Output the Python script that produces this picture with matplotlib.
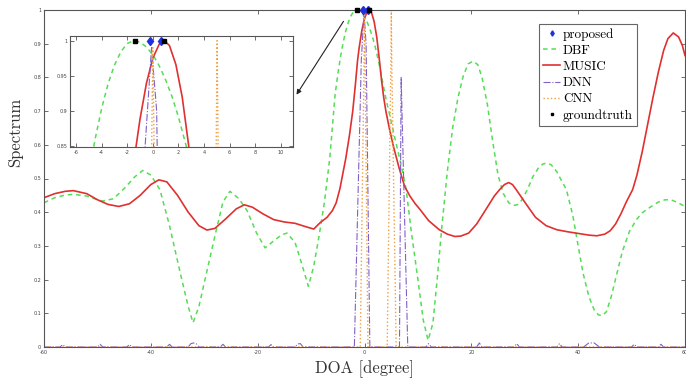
import matplotlib
matplotlib.use('Agg')
import matplotlib.pyplot as plt

# MUSIC spectrum (red solid)
music_x = [-60, -58, -56, -54.5, -52, -50, -48, -46, -44, -42, -40, -38.5, -37, -35, -33, -31,
           -29.5, -28, -26, -24, -22.5, -21, -19, -17, -15, -13, -11, -9.5, -8.3, -7, -6, -5.3,
           -4.6, -3.5, -2.8, -2.2, -1.7, -1.3, -1.0, -0.5, 0, 0.5, 0.9, 1.3, 1.8, 2.3, 2.8,
           3.2, 3.6, 4.0, 4.7, 5.5, 6.5, 7.5, 8.5, 9.5, 10.3, 12, 14, 15.5, 16.9, 18, 19.5,
           21, 23, 24.3, 25.3, 26.2, 27, 27.7, 28.4, 30, 32, 34, 36, 38, 40, 42, 43.5, 45, 46,
           47, 48, 49, 50.2, 51, 52, 53, 54, 55, 56, 56.8, 57.8, 58.8, 59.5, 60]
music_y = [0.443, 0.455, 0.462, 0.464, 0.455, 0.437, 0.423, 0.417, 0.425, 0.450, 0.482, 0.496,
           0.490, 0.450, 0.400, 0.360, 0.347, 0.352, 0.380, 0.410, 0.422, 0.415, 0.395, 0.378,
           0.371, 0.367, 0.357, 0.350, 0.369, 0.385, 0.405, 0.428, 0.470, 0.560, 0.630, 0.700,
           0.780, 0.850, 0.888, 0.939, 0.975, 0.995, 1.0, 0.993, 0.966, 0.919, 0.850, 0.790,
           0.740, 0.700, 0.645, 0.590, 0.530, 0.477, 0.448, 0.425, 0.410, 0.375, 0.348, 0.335,
           0.328, 0.329, 0.338, 0.365, 0.415, 0.448, 0.467, 0.482, 0.488, 0.482, 0.467, 0.430,
           0.385, 0.360, 0.348, 0.342, 0.337, 0.332, 0.330, 0.335, 0.345, 0.365, 0.395, 0.430,
           0.467, 0.510, 0.580, 0.660, 0.740, 0.815, 0.880, 0.915, 0.932, 0.920, 0.895, 0.865]

# DBF spectrum (green dashed)
dbf_x = [-60, -58, -56, -54.5, -52, -50, -49, -47, -45, -43, -41.5, -40, -38.3, -36.5, -34.5,
         -33, -32.1, -31, -30, -29, -28, -26.5, -25.2, -23.5, -22, -20.2, -18.6, -17, -15.5,
         -14.5, -13, -12, -10.5, -9.5, -8.5, -7.5, -6.5, -5.5, -5.0, -4.5, -4.0, -3.5, -3.0,
         -2.5, -2.0, -1.5, -1.0, -0.5, 0, 0.5, 1.0, 1.5, 2.0, 2.6, 3.0, 3.5, 4.1, 4.7, 5.4,
         6.2, 7, 7.8, 8.7, 10, 11, 11.9, 12.8, 13.6, 14.5, 15.5, 16.5, 17.5, 18.5, 19.4, 20.3,
         21.2, 22, 23, 24, 25, 26, 27, 27.8, 28.6, 29.4, 30.5, 31.5, 32.5, 33.4, 34.2, 35,
         36, 37, 37.8, 39, 40, 40.9, 42, 43, 43.8, 44.5, 45.3, 46.2, 47.2, 48.3, 49.6, 51,
         52, 53, 54, 55, 56.3, 57.5, 58.7, 60]
dbf_y = [0.428, 0.443, 0.451, 0.453, 0.448, 0.437, 0.433, 0.440, 0.470, 0.505, 0.524, 0.510,
         0.467, 0.360, 0.220, 0.120, 0.072, 0.120, 0.190, 0.260, 0.330, 0.430, 0.462, 0.440,
         0.405, 0.338, 0.294, 0.315, 0.333, 0.338, 0.310, 0.260, 0.180, 0.240, 0.330, 0.430,
         0.560, 0.750, 0.809, 0.860, 0.903, 0.938, 0.965, 0.984, 0.996, 1.0, 0.998, 0.991,
         0.980, 0.964, 0.944, 0.920, 0.891, 0.850, 0.819, 0.777, 0.730, 0.690, 0.640, 0.585,
         0.530, 0.467, 0.350, 0.200, 0.080, 0.020, 0.070, 0.200, 0.360, 0.520, 0.650, 0.740,
         0.805, 0.840, 0.848, 0.838, 0.800, 0.720, 0.610, 0.510, 0.455, 0.428, 0.420, 0.422,
         0.435, 0.467, 0.505, 0.530, 0.543, 0.546, 0.540, 0.520, 0.490, 0.467, 0.390, 0.300,
         0.220, 0.150, 0.110, 0.095, 0.093, 0.105, 0.150, 0.215, 0.285, 0.343, 0.380, 0.398,
         0.410, 0.420, 0.430, 0.437, 0.436, 0.428, 0.417]

# DNN output (purple dash-dot): small noise plus spikes
dnn_x = [-60, -57, -56.5, -56, -50, -49.5, -49, -44.5, -44, -43.5, -37, -36.5, -36, -33, -32.5,
         -32, -31.5, -31, -27, -26.5, -26, -18, -17.5, -17, -13, -12.5, -12, -11.5, -2.0, -1.9,
         -0.6, -0.1, 0.3, 1.0, 6.55, 6.86, 8.1, 11.5, 12, 12.5, 21, 21.5, 22, 28, 28.5, 29, 36,
         36.5, 37, 41, 42, 43, 44, 50, 50.5, 51, 55, 55.5, 56, 60]
dnn_y = [0, 0, 0.007, 0, 0, 0.008, 0, 0, 0.007, 0, 0, 0.008, 0, 0, 0.010, 0.012, 0.010, 0, 0,
         0.008, 0, 0, 0.007, 0, 0, 0.009, 0.010, 0, 0, 0, 0.85, 0.99, 0.90, 0, 0, 0.80, 0, 0,
         0.010, 0, 0, 0.012, 0, 0, 0.010, 0, 0, 0.010, 0, 0, 0.012, 0.012, 0, 0, 0.008, 0, 0,
         0.008, 0, 0]

# CNN output (orange dotted)
cnn_x = [-60, -0.8, -0.12, -0.09, 0.0, 0.1, 0.14, 0.65, 4.25, 4.9, 4.95, 5.02, 5.1, 5.15,
         5.93, 60]
cnn_y = [0, 0, 0.80, 0.85, 0.99, 0.85, 0.80, 0, 0, 0.80, 0.85, 1.0, 0.85, 0.80, 0, 0]

# estimated and true directions
proposed_x = [-0.2, 0.6]
proposed_y = [1.0, 1.0]
truth_x = [-1.4, 0.9]
truth_y = [1.0, 1.0]

labels = ['proposed', 'DBF', 'MUSIC', 'DNN', 'CNN', 'groundtruth']

C_MUSIC = '#e03030'
C_DBF = '#55dd55'
C_DNN = '#8060c8'
C_CNN = '#f0a040'
C_PROP = '#2030e0'
SPINE = '#555555'

W, H = 686, 379
fig = plt.figure(figsize=(W / 100, H / 100), dpi=100)
fig.patch.set_facecolor('white')


def draw_all(ax):
    h = []
    h.append(ax.plot(proposed_x, proposed_y, 'd', color=C_PROP, ms=4.5, clip_on=False, zorder=6)[0])
    h.append(ax.plot(dbf_x, dbf_y, '--', color=C_DBF, lw=1.1, dashes=(3, 2.5))[0])
    h.append(ax.plot(music_x, music_y, '-', color=C_MUSIC, lw=1.2)[0])
    h.append(ax.plot(dnn_x, dnn_y, '-.', color=C_DNN, lw=0.8)[0])
    h.append(ax.plot(cnn_x, cnn_y, ':', color=C_CNN, lw=1.0)[0])
    h.append(ax.plot(truth_x, truth_y, 's', color='black', ms=3.5, clip_on=False, zorder=6)[0])
    return h


def style_axes(ax):
    for s in ax.spines.values():
        s.set_color(SPINE)
        s.set_linewidth(0.8)
    ax.tick_params(direction='in', length=3, width=0.6, color=SPINE, labelsize=3.5,
                   labelcolor='#444444', top=True, right=True, pad=2)


# main axes
ax = fig.add_axes([44 / W, 32 / H, 641 / W, 337 / H])
handles = draw_all(ax)
ax.set_xlim(-60, 60)
ax.set_ylim(0, 1)
ax.set_xticks([-60, -40, -20, 0, 20, 40, 60])
ax.set_xticklabels(['-60', '-40', '-20', '0', '20', '40', '60'])
ax.set_yticks([0, 0.1, 0.2, 0.3, 0.4, 0.5, 0.6, 0.7, 0.8, 0.9, 1])
ax.set_yticklabels(['0', '0.1', '0.2', '0.3', '0.4', '0.5', '0.6', '0.7', '0.8', '0.9', '1'])
style_axes(ax)
ax.set_xlabel('DOA [degree]', fontfamily='cmr10', fontsize=12, color='#333333')
ax.set_ylabel('Spectrum', fontfamily='cmr10', fontsize=12, color='#333333')
ax.xaxis.set_label_coords(0.5, -0.04)
ax.yaxis.set_label_coords(-0.033, 0.638)

leg = ax.legend(handles, labels, loc='upper right', bbox_to_anchor=(0.925, 0.958),
                prop={'family': 'cmr10', 'size': 9.5}, fancybox=False, edgecolor='#666666',
                framealpha=1, handlelength=1.3, handletextpad=0.2, labelspacing=0.3,
                borderpad=0.3, borderaxespad=0, markerscale=0.6)
leg.get_frame().set_linewidth(0.8)

# zoomed inset
ins = fig.add_axes([70 / W, (H - 147) / H, 223 / W, 111 / H])
draw_all(ins)
ins.set_xlim(-6.47, 10.95)
ins.set_ylim(0.848, 1.0067)
ins.set_xticks([-6, -4, -2, 0, 2, 4, 6, 8, 10])
ins.set_xticklabels(['-6', '-4', '-2', '0', '2', '4', '6', '8', '10'])
ins.set_yticks([0.85, 0.9, 0.95, 1])
ins.set_yticklabels(['0.85', '0.9', '0.95', '1'])
style_axes(ins)

# arrow pointing from the peak to the inset
ax.annotate('', xy=(295 / W, 1 - 97 / H), xytext=(345 / W, 1 - 19 / H),
            xycoords='figure fraction', textcoords='figure fraction',
            arrowprops=dict(arrowstyle='-|>', color='#222222', lw=0.8, mutation_scale=7))

fig.savefig('out.png', dpi=100)
